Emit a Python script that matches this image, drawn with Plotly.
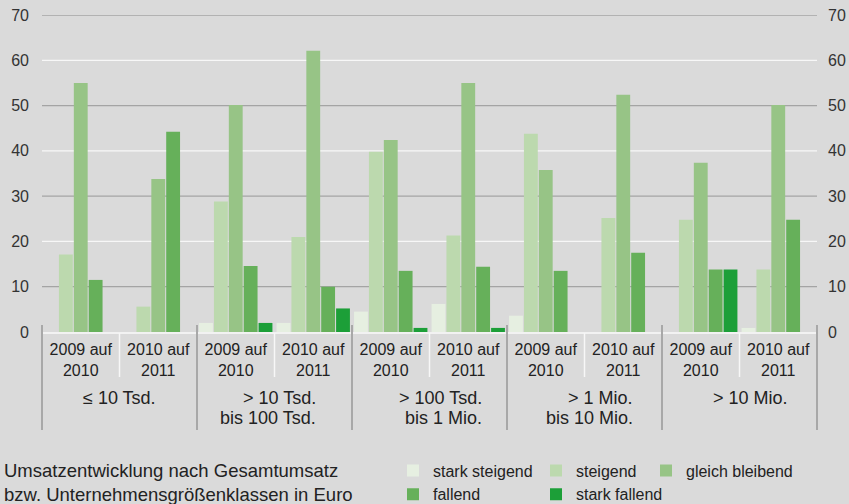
import plotly.graph_objects as go

# ---------------- data ----------------
groups = ["≤ 10 Tsd.", "> 10 Tsd. bis 100 Tsd.", "> 100 Tsd. bis 1 Mio.",
          "> 1 Mio. bis 10 Mio.", "> 10 Mio."]
group_line1 = ["≤ 10 Tsd.", "> 10 Tsd.", "> 100 Tsd.", "> 1 Mio.", "> 10 Mio."]
group_line2 = ["", "bis 100 Tsd.", "bis 1 Mio.", "bis 10 Mio.", ""]
periods = ["2009 auf<br>2010", "2010 auf<br>2011"]

stark_steigend = [0, 0, 2.0, 2.0, 4.5, 6.2, 3.6, 0, 0, 0.9]
steigend = [17.1, 5.6, 28.8, 21.0, 39.8, 21.3, 43.8, 25.2, 24.8, 13.8]
gleich_bleibend = [55.0, 33.8, 50.1, 62.1, 42.4, 55.0, 35.8, 52.4, 37.4, 50.1]
fallend = [11.5, 44.2, 14.6, 10.0, 13.5, 14.4, 13.5, 17.5, 13.8, 24.8]
stark_fallend = [0, 0, 2.0, 5.2, 0.9, 0.9, 0, 0, 13.8, 0]

series_names = ["stark steigend", "steigend", "gleich bleibend", "fallend", "stark fallend"]
series_values = [stark_steigend, steigend, gleich_bleibend, fallend, stark_fallend]

y_ticks = [0, 10, 20, 30, 40, 50, 60, 70]
grid_gray = [10, 30, 50, 70]
grid_white = [20, 40, 60]

caption = "Umsatzentwicklung nach Gesamtumsatz<br>bzw. Unternehmensgrößenklassen in Euro"

# ---------------- style ----------------
W, H = 849, 504
ML, MR, MT, MB = 42, 32, 15, 172
PW, PH = W - ML - MR, H - MT - MB
BG = "#dadada"
TXT = "#222222"
FONT = "Liberation Sans, Arial, sans-serif"
colors = ["#e6efe1", "#bcd9ae", "#97c486", "#66b05a", "#1c9f38"]
legend_ids = ["legend", "legend2", "legend3", "legend", "legend2"]


def px_x(px):
    return (px - ML) / PW


def px_y(py):
    return (H - MB - py) / PH


categories = [f"{g}|{p}" for g in groups for p in periods]
tick_text = [p for g in groups for p in periods]

fig = go.Figure()
for name, vals, col, lg in zip(series_names, series_values, colors, legend_ids):
    fig.add_trace(go.Bar(x=categories, y=vals, name=name, marker=dict(color=col, line=dict(width=0)),
                         legend=lg))
# right-hand value axis (same scale, draws nothing)
fig.add_trace(go.Scatter(x=categories, y=gleich_bleibend, yaxis="y2", mode="none",
                         showlegend=False, hoverinfo="skip"))

shapes = []
for v in grid_gray:
    shapes.append(dict(type="line", xref="paper", yref="y", x0=0, x1=1, y0=v, y1=v,
                       line=dict(color="#a4a4a4", width=1.3), layer="below"))
for v in grid_white:
    shapes.append(dict(type="line", xref="paper", yref="y", x0=0, x1=1, y0=v, y1=v,
                       line=dict(color="#f7f7f7", width=1.3), layer="below"))
n_groups = len(groups)
for k in range(n_groups + 1):
    shapes.append(dict(type="line", xref="paper", yref="paper", x0=k / n_groups, x1=k / n_groups,
                       y0=px_y(430), y1=px_y(325), line=dict(color="#a8a8a8", width=2)))
for k in range(n_groups):
    xm = (2 * k + 1) / (2 * n_groups)
    shapes.append(dict(type="line", xref="paper", yref="paper", x0=xm, x1=xm,
                       y0=px_y(377), y1=px_y(333), line=dict(color="#f7f7f7", width=1.5)))

annotations = []
right_shift = [38.5, 43.5, 54.5, 50.5, 50.5]
for k in range(n_groups):
    xc = (2 * k + 1) / (2 * n_groups)
    annotations.append(dict(xref="paper", yref="paper", x=xc, y=px_y(397.8), xshift=right_shift[k],
                            text=group_line1[k], showarrow=False, xanchor="right", yanchor="middle",
                            font=dict(size=18, color=TXT, family=FONT)))
    if group_line2[k]:
        annotations.append(dict(xref="paper", yref="paper", x=xc, y=px_y(417.8), xshift=right_shift[k],
                                text=group_line2[k], showarrow=False, xanchor="right", yanchor="middle",
                                font=dict(size=18, color=TXT, family=FONT)))
annotations.append(dict(xref="paper", yref="paper", x=px_x(1.5), y=px_y(482.5), text=caption,
                        showarrow=False, xanchor="left", yanchor="middle", align="left",
                        font=dict(size=18.5, color=TXT, family=FONT)))

legend_common = dict(orientation="v", xref="container", yref="container", xanchor="left",
                     yanchor="top", bgcolor="rgba(0,0,0,0)", font=dict(size=16, color=TXT, family=FONT),
                     traceorder="normal")
LEG_TOP = 453.5

fig.update_layout(
    width=W, height=H,
    margin=dict(l=ML, r=MR, t=MT, b=MB, autoexpand=False),
    paper_bgcolor=BG, plot_bgcolor=BG,
    font=dict(family=FONT, color=TXT, size=16),
    barmode="group", bargap=0.04, bargroupgap=0.07,
    showlegend=True,
    xaxis=dict(type="category", tickvals=categories, ticktext=tick_text, ticks="",
               showgrid=False, showline=True, linecolor="#f2f2f2", linewidth=2,
               tickfont=dict(size=16, color=TXT, family=FONT), ticklabelstandoff=2,
               range=[-0.5, len(categories) - 0.5], automargin=False),
    yaxis=dict(range=[0, 70], tickvals=y_ticks, showgrid=False, zeroline=False, ticks="",
               tickfont=dict(size=16, color="#333333", family=FONT), ticklabelstandoff=12,
               automargin=False),
    yaxis2=dict(range=[0, 70], tickvals=y_ticks, overlaying="y", side="right", anchor="x",
                showgrid=False, zeroline=False, ticks="", automargin=False,
                tickfont=dict(size=16, color="#333333", family=FONT), ticklabelstandoff=10),
    legend=dict(x=393 / W, y=1 - LEG_TOP / H, **legend_common),
    legend2=dict(x=536 / W, y=1 - LEG_TOP / H, **legend_common),
    legend3=dict(x=646 / W, y=1 - LEG_TOP / H, **legend_common),
    shapes=shapes,
    annotations=annotations,
)

fig.write_html("out.html", config={"displayModeBar": False},
               post_script="document.body.style.margin='0';document.body.style.overflow='hidden';")
